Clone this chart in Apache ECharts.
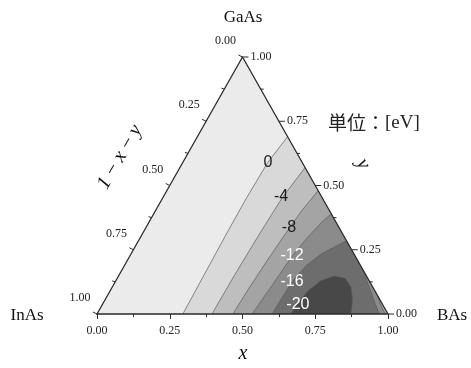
<!DOCTYPE html>
<html><head><meta charset="utf-8">
<script src="https://cdn.jsdelivr.net/npm/echarts@6/dist/echarts.min.js"></script>
<style>html,body{margin:0;padding:0;background:#fff}#c{width:471px;height:368px}</style>
</head><body><div id="c"></div>
<script>
// ternary coordinates: [x (BAs fraction), y (GaAs fraction)], 1-x-y = InAs fraction
const levels = [0, -4, -8, -12, -16, -20];
const levelLabels = ['0', '-4', '-8', '-12', '-16', '-20'];
const contour0 = [[0.295,0],[0.292,0.15],[0.289,0.3],[0.288,0.45],[0.292,0.59],[0.31,0.69]];
const contourM4 = [[0.395,0],[0.397,0.15],[0.402,0.3],[0.41,0.45],[0.43,0.57]];
const contourM8 = [[0.467,0],[0.472,0.1],[0.48,0.2],[0.49,0.3],[0.502,0.4],[0.52,0.48]];
const contourM12 = [[0.533,0],[0.54,0.06],[0.548,0.13],[0.558,0.226],[0.575,0.3],[0.595,0.36],[0.61,0.39]];
const contourM12b = [[0.93,0.07],[0.96,0.032],[0.99,0]];
const contourM16 = [[0.602,0],[0.604,0.06],[0.608,0.13],[0.625,0.19],[0.655,0.235],[0.69,0.265],[0.715,0.285]];
const contourM16b = [[0.837,0.163],[0.87,0.12],[0.905,0.078],[0.94,0.035],[0.97,0]];
const contourM20 = [[0.665,0],[0.668,0.04],[0.68,0.09],[0.705,0.13],[0.742,0.148],[0.785,0.138],[0.82,0.105],[0.845,0.065],[0.862,0.028],[0.872,0]];
const labelPos = [[0.292,0.591],[0.405,0.455],[0.492,0.335],[0.557,0.226],[0.606,0.128],[0.673,0.035]];
const axisTickValues = [0, 0.25, 0.5, 0.75, 1];
const axisTickLabels = ['0.00', '0.25', '0.50', '0.75', '1.00'];
const minorTickValues = [0.125, 0.375, 0.625, 0.875];

const contours = [[contour0],[contourM4],[contourM8],[contourM12, contourM12b],[contourM16, contourM16b],[contourM20]];
const bandColors = ['#ebebeb','#d9d9d9','#bebebe','#a4a4a4','#8b8b8b','#6d6d6d','#484848'];
const labelColors = ['#1a1a1a','#1a1a1a','#1a1a1a','#ffffff','#ffffff','#ffffff'];
const toXY = p => [p[0] + p[1] / 2, p[1]];
const serif = '"Liberation Serif", "Times New Roman", serif';

function renderField(params, api) {
  const C = t => api.coord(toXY(t));
  const ch = [];
  ch.push({type:'polygon', shape:{points:[[0,0],[1,0],[0,1]].map(C)}, style:{fill:bandColors[0]}});
  contours.forEach((pieces, i) => {
    let pts = [];
    pieces.forEach(pc => { pts = pts.concat(pc); });
    if (pts[pts.length-1][1] > 0) pts.push([1,0]);
    ch.push({type:'polygon', shape:{points:pts.map(C)}, style:{fill:bandColors[i+1]}});
  });
  contours.forEach(pieces => pieces.forEach(pc => {
    ch.push({type:'polyline', shape:{points:pc.map(C)}, style:{stroke:'#5a5a5a', lineWidth:0.7, fill:null}});
  }));
  labelPos.forEach((p, i) => {
    const q = C(p);
    ch.push({type:'text', x:q[0], y:q[1], style:{text:levelLabels[i], fill:labelColors[i], font:'16px "Liberation Sans", Arial, sans-serif', align:'center', verticalAlign:'middle'}});
  });
  // triangle frame
  ch.push({type:'polygon', shape:{points:[[0,0],[1,0],[0,1]].map(C)}, style:{fill:null, stroke:'#2a2a2a', lineWidth:1.3}});
  // right axis (y)
  axisTickValues.forEach((v, i) => {
    const q = C([1-v, v]);
    ch.push({type:'line', shape:{x1:q[0], y1:q[1], x2:q[0]+6, y2:q[1]}, style:{stroke:'#2a2a2a', lineWidth:1}});
    ch.push({type:'text', x:q[0]+8, y:q[1], style:{text:axisTickLabels[i], fill:'#222', font:'12px '+serif, align:'left', verticalAlign:'middle'}});
  });
  minorTickValues.forEach(v => {
    const q = C([1-v, v]);
    ch.push({type:'line', shape:{x1:q[0], y1:q[1], x2:q[0]+3, y2:q[1]}, style:{stroke:'#2a2a2a', lineWidth:1}});
  });
  // left axis (1-x-y)
  axisTickValues.forEach((v, i) => {
    const q = C([0, 1-v]);
    ch.push({type:'line', shape:{x1:q[0], y1:q[1], x2:q[0]-4, y2:q[1]-2}, style:{stroke:'#2a2a2a', lineWidth:1}});
    ch.push({type:'text', x:q[0]-17, y:q[1]-16, style:{text:axisTickLabels[i], fill:'#222', font:'12px '+serif, align:'center', verticalAlign:'middle'}});
  });
  minorTickValues.forEach(v => {
    const q = C([0, 1-v]);
    ch.push({type:'line', shape:{x1:q[0], y1:q[1], x2:q[0]-3, y2:q[1]-1}, style:{stroke:'#2a2a2a', lineWidth:1}});
  });
  return {type:'group', children:ch};
}

const chart = echarts.init(document.getElementById('c'), null, {renderer:'canvas'});
chart.setOption({
  animation:false,
  backgroundColor:'#ffffff',
  grid:{left:97, top:57, width:291, height:257},
  xAxis:{type:'value', min:0, max:1, interval:0.25,
    axisLine:{show:false},
    axisTick:{show:true, length:5, lineStyle:{color:'#2a2a2a'}},
    minorTick:{show:true, splitNumber:2, length:3, lineStyle:{color:'#2a2a2a'}},
    splitLine:{show:false}, minorSplitLine:{show:false},
    axisLabel:{margin:11, color:'#222', fontFamily:'Liberation Serif', fontSize:12, formatter:v => v.toFixed(2)}},
  yAxis:{type:'value', min:0, max:1, show:false},
  series:[{type:'custom', coordinateSystem:'cartesian2d', data:[[0,0]], renderItem:renderField, clip:false, silent:true}],
  graphic:[
    {type:'text', x:243, y:18, style:{text:'GaAs', font:'17px '+serif, fill:'#111', align:'center', verticalAlign:'middle'}},
    {type:'text', x:27, y:316, style:{text:'InAs', font:'17px '+serif, fill:'#111', align:'center', verticalAlign:'middle'}},
    {type:'text', x:452, y:316, style:{text:'BAs', font:'17px '+serif, fill:'#111', align:'center', verticalAlign:'middle'}},
    {type:'text', x:243, y:354, style:{text:'x', font:'italic 20px '+serif, fill:'#111', align:'center', verticalAlign:'middle'}},
    {type:'text', x:363, y:164, rotation:-Math.PI/3, style:{text:'y', font:'italic 20px '+serif, fill:'#111', align:'center', verticalAlign:'middle'}},
    {type:'text', x:120, y:157, rotation:Math.PI/3, style:{text:'1\u2009\u2212\u2009x\u2009\u2212\u2009y', font:'italic 20px '+serif, fill:'#111', align:'center', verticalAlign:'middle'}},
    {type:'text', x:328, y:123, style:{text:'{a|単位：}{b|[eV]}', align:'left', verticalAlign:'middle',
      rich:{a:{font:'19px "Noto Sans CJK JP"', fill:'#222'}, b:{font:'19px '+serif, fill:'#222'}}}}
  ]
});
</script></body></html>
